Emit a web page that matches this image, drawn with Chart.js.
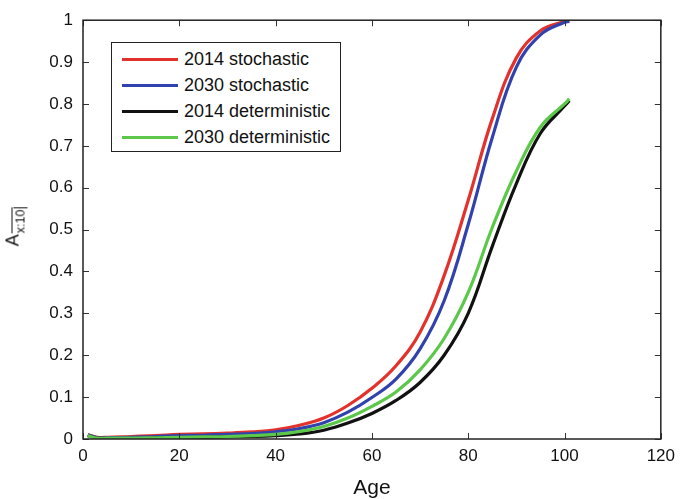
<!DOCTYPE html>
<html lang="en">
<head>
  <meta charset="UTF-8">
  <title>A x:10 by age</title>
  <script src="https://cdn.jsdelivr.net/npm/chart.js"></script>
  <style>
    body { margin:0; background:#fff; font-family:"Liberation Sans", Arial, sans-serif }
    .wrap { position:relative; width:682px; height:499px }
    canvas { display:block }
    .legend {
      position:absolute; left:111px; top:42px; width:230px; height:110px;
      border:1px solid #222; background:#fff; box-sizing:border-box;
    }
    .legend .row { position:absolute; left:0; height:20px; display:flex; align-items:center; font-size:18px; color:#111 }
    .legend .mark { width:56px; height:3px; margin-left:10px; margin-right:6px }
    .ytitle {
      position:absolute; left:13px; top:227px; transform:translate(-50%,-50%) rotate(-90deg);
      white-space:nowrap; font-size:18px; color:#111;
    }
    .ytitle .sub { font-size:12.5px; position:relative; top:6px; margin-left:1px;
      border-top:1.3px solid #111; padding-top:1px }
    .ytitle .ang { border-right:1.3px solid #111; padding-right:1px }
  </style>
</head>
<body>
  <div class="wrap">
    <canvas id="chart" width="682" height="499"></canvas>
    <div class="legend" id="legend"></div>
    <div class="ytitle">A<span class="sub">x:<span class="ang">10</span></span></div>
  </div>

  <script>
    const ages = [1, 3, 5, 10, 15, 20, 25, 30, 35, 40, 45, 50, 55, 60, 65, 70, 75, 80, 85, 90, 95, 100, 101];

    const stoch2014 = [0.010,0.004,0.004,0.006,0.008,0.011,0.012,0.014,0.017,0.022,0.033,0.050,0.080,0.121,0.175,0.255,0.390,0.570,0.765,0.910,0.975,0.997,0.998];
    const stoch2030 = [0.010,0.003,0.003,0.004,0.006,0.008,0.009,0.011,0.013,0.017,0.025,0.039,0.064,0.099,0.143,0.215,0.330,0.512,0.720,0.888,0.965,0.995,0.997];
    const det2014   = [0.008,0.002,0.001,0.001,0.002,0.003,0.004,0.005,0.006,0.008,0.012,0.021,0.038,0.061,0.092,0.135,0.200,0.300,0.460,0.610,0.730,0.795,0.808];
    const det2030   = [0.008,0.002,0.002,0.002,0.003,0.004,0.005,0.006,0.008,0.011,0.018,0.030,0.050,0.078,0.112,0.165,0.240,0.350,0.505,0.640,0.745,0.800,0.812];

    const xTicks = [0, 20, 40, 60, 80, 100, 120];
    const yTicks = [0, 0.1, 0.2, 0.3, 0.4, 0.5, 0.6, 0.7, 0.8, 0.9, 1];

    const series = [
      {label:"2014 stochastic",    data:stoch2014, color:"#e3322b"},
      {label:"2030 stochastic",    data:stoch2030, color:"#3142ad"},
      {label:"2014 deterministic", data:det2014,   color:"#111111"},
      {label:"2030 deterministic", data:det2030,   color:"#5cc84a"}
    ];

    // matlab style box + inward ticks on all four sides
    const boxTicks = {
      id:"boxTicks",
      afterDatasetsDraw(chart){
        const {ctx, chartArea:a, scales:{x, y}} = chart;
        ctx.save();
        ctx.strokeStyle = "#333";
        ctx.lineWidth = 1;
        xTicks.forEach(v=>{
          const px = Math.round(x.getPixelForValue(v)) + 0.5;
          ctx.beginPath();
          ctx.moveTo(px, a.bottom); ctx.lineTo(px, a.bottom - 6);
          ctx.moveTo(px, a.top);    ctx.lineTo(px, a.top + 6);
          ctx.stroke();
        });
        yTicks.forEach(v=>{
          const py = Math.round(y.getPixelForValue(v)) + 0.5;
          ctx.beginPath();
          ctx.moveTo(a.left, py);  ctx.lineTo(a.left + 6, py);
          ctx.moveTo(a.right, py); ctx.lineTo(a.right - 6, py);
          ctx.stroke();
        });
        ctx.strokeStyle = "#222";
        ctx.lineWidth = 1.5;
        ctx.strokeRect(a.left, a.top, a.right - a.left, a.bottom - a.top);
        ctx.restore();
      }
    };

    new Chart(document.getElementById("chart"), {
      type:"line",
      data:{
        datasets: series.map((s, i)=>({
          label:s.label,
          data:ages.map((a, k)=>({x:a, y:s.data[k]})),
          borderColor:s.color,
          borderWidth:3.2,
          pointRadius:0,
          fill:false,
          tension:0.4,
          order:series.length - i   // later series drawn on top, like matlab
        }))
      },
      options:{
        responsive:false,
        animation:false,
        layout:{padding:{top:16, right:13, left:0, bottom:0}},
        plugins:{legend:{display:false}, tooltip:{enabled:false}},
        scales:{
          x:{
            type:"linear", min:0, max:120,
            afterBuildTicks(s){ s.ticks = xTicks.map(v=>({value:v})); },
            afterFit(s){ s.height = 60; },
            grid:{display:false, drawTicks:false},
            border:{display:false},
            ticks:{color:"#111", padding:7, font:{family:"Liberation Sans", size:17}},
            title:{display:true, text:"Age", color:"#111", padding:{top:0, bottom:0},
              font:{family:"Liberation Sans", size:21, lineHeight:1}}
          },
          y:{
            type:"linear", min:0, max:1,
            afterBuildTicks(s){ s.ticks = yTicks.map(v=>({value:v})); },
            afterFit(s){ s.width = 83; },
            grid:{display:false, drawTicks:false},
            border:{display:false},
            ticks:{color:"#111", padding:10, font:{family:"Liberation Sans", size:17},
              callback:v=>String(+v.toFixed(1))}
          }
        }
      },
      plugins:[boxTicks]
    });

    // legend box
    const lg = document.getElementById("legend");
    series.forEach((s, i)=>{
      const r = document.createElement("div");
      r.className = "row";
      r.style.top = (6 + i * 26.2) + "px";
      r.innerHTML = `<span class="mark" style="background:${s.color}"></span>${s.label}`;
      lg.appendChild(r);
    });
  </script>
</body>
</html>
